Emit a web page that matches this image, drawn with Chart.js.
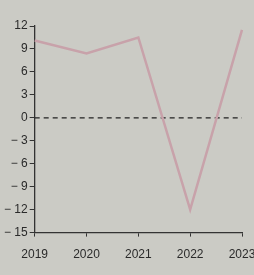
<!DOCTYPE html>
<html><head><meta charset="utf-8">
<script src="https://cdn.jsdelivr.net/npm/chart.js@4/dist/chart.umd.min.js"></script>
<style>html,body{margin:0;padding:0;overflow:hidden;background:#cbcbc5;width:254px;height:275px}</style>
</head><body><canvas id="c" width="254" height="275"></canvas>
<script>
const years = ["2019","2020","2021","2022","2023"];
const values = [10.1, 8.4, 10.5, -12, 11.5];
const zeroLine = [0, 0, 0, 0, 0];
const yTicks = [12, 9, 6, 3, 0, -3, -6, -9, -12, -15];

new Chart(document.getElementById('c'), {
  type: 'line',
  data: {
    labels: years,
    datasets: [
      {data: values, borderColor: '#c8a2aa', borderWidth: 2.5, pointRadius: 0, tension: 0, fill: false},
      {data: zeroLine, borderColor: '#222', borderWidth: 1.3, borderDash: [5, 4], pointRadius: 0, fill: false}
    ]
  },
  options: {
    responsive: false, animation: false,
    layout: {padding: {top: 26, right: 12, bottom: 2, left: 2}},
    plugins: {legend: {display: false}, tooltip: {enabled: false}},
    scales: {
      x: {
        offset: false,
        afterFit: s => { s.paddingRight = 0; },
        grid: {drawOnChartArea: false, tickLength: 4, color: '#333'},
        border: {color: '#333', width: 1.3},
        ticks: {color: '#2a2a2a', font: {family: 'Liberation Sans', size: 12}, padding: 11, maxRotation: 0, autoSkip: false}
      },
      y: {
        min: -15, max: 12,
        afterBuildTicks: s => { s.ticks = yTicks.map(v => ({value: v})); },
        grid: {drawOnChartArea: false, tickLength: 5, color: '#333'},
        border: {color: '#333', width: 1.3},
        ticks: {color: '#2a2a2a', font: {family: 'Liberation Sans', size: 12}, padding: 2,
          callback: v => v < 0 ? '\u2212 ' + Math.abs(v) : String(v)}
      }
    }
  }
});
</script></body></html>
